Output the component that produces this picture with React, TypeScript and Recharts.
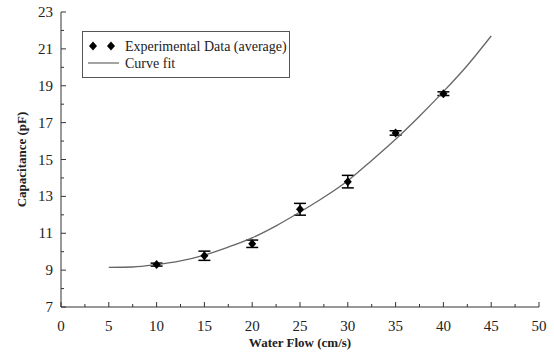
import {
  ComposedChart,
  ErrorBar,
  Legend,
  Line,
  Scatter,
  XAxis,
  YAxis,
} from "recharts";

// measured points (cm/s -> pF) with error half-widths
const flow = [10, 15, 20, 25, 30, 35, 40];
const capacitance = [9.3, 9.78, 10.43, 12.3, 13.8, 16.44, 18.57];
const errors = [0.08, 0.25, 0.2, 0.32, 0.34, 0.12, 0.1];

// curve fit
const fitFlow = [5, 7.5, 10, 12.5, 15, 17.5, 20, 22.5, 25, 27.5, 30, 32.5, 35, 37.5, 40, 42.5, 45];
const fitCap = [9.15, 9.17, 9.3, 9.5, 9.82, 10.25, 10.75, 11.4, 12.15, 12.95, 13.85, 14.95, 16.1, 17.35, 18.68, 20.1, 21.7];

const xTicks = [0, 2.5, 5, 7.5, 10, 12.5, 15, 17.5, 20, 22.5, 25, 27.5, 30, 32.5, 35, 37.5, 40, 42.5, 45, 47.5, 50];
const yTicks = [7, 8, 9, 10, 11, 12, 13, 14, 15, 16, 17, 18, 19, 20, 21, 22, 23];

const points = flow.map((x, i) => ({ x, y: capacitance[i], err: errors[i] }));
const fit = fitFlow.map((x, i) => ({ x, fit: fitCap[i] }));

const AXIS = "#333";
const FONT = "'Liberation Serif', 'Times New Roman', serif";
const txt = { fontFamily: FONT, fill: "#222" };

const isMajorX = (v: number) => v % 5 === 0;
const isMajorY = (v: number) => v % 2 === 1;

function BottomTick({ x, y, payload }: any) {
  const major = isMajorX(payload.value);
  return (
    <g>
      <line x1={x} x2={x} y1={y} y2={y - (major ? 5 : 3)} stroke={AXIS} />
      {major && (
        <text x={x} y={y + 24} textAnchor="middle" style={{ ...txt, fontSize: 15 }}>
          {payload.value}
        </text>
      )}
    </g>
  );
}

function TopTick({ x, y, payload }: any) {
  const major = isMajorX(payload.value);
  return <line x1={x} x2={x} y1={y} y2={y + (major ? 5 : 3)} stroke={AXIS} />;
}

function LeftTick({ x, y, payload }: any) {
  const major = isMajorY(payload.value);
  return (
    <g>
      <line x1={x} x2={x + (major ? 5 : 3)} y1={y} y2={y} stroke={AXIS} />
      {major && (
        <text x={x - 8} y={y + 5} textAnchor="end" style={{ ...txt, fontSize: 15 }}>
          {payload.value}
        </text>
      )}
    </g>
  );
}

function RightTick({ x, y, payload }: any) {
  const major = isMajorY(payload.value);
  return <line x1={x} x2={x - (major ? 5 : 3)} y1={y} y2={y} stroke={AXIS} />;
}

function Diamond({ cx, cy }: any) {
  if (cx == null || cy == null) return null;
  return (
    <polygon
      points={`${cx},${cy - 4.5} ${cx + 4},${cy} ${cx},${cy + 4.5} ${cx - 4},${cy}`}
      fill="#000"
    />
  );
}

function LegendBox({ payload }: any) {
  const items = [...(payload || [])].sort((a, b) =>
    a.type === "line" ? 1 : b.type === "line" ? -1 : 0
  );
  return (
    <div style={{ border: "1.5px solid #555", width: 206, height: 45, boxSizing: "content-box" }}>
      <svg width={206} height={45}>
        {items.map((it: any, i: number) => {
          const cy = 14 + i * 17;
          return (
            <g key={it.value}>
              {it.type === "line" ? (
                <line x1={5} x2={36} y1={cy} y2={cy} stroke="#666" strokeWidth={1.2} />
              ) : (
                <>
                  <Diamond cx={10} cy={cy} />
                  <Diamond cx={28} cy={cy} />
                </>
              )}
              <text x={42} y={cy + 5} style={{ ...txt, fontSize: 14 }}>
                {it.value}
              </text>
            </g>
          );
        })}
      </svg>
    </div>
  );
}

export default function App() {
  return (
    <div style={{ width: 554, height: 358, background: "#fff" }}>
      <style>{`body{margin:0}`}</style>
      <ComposedChart width={554} height={358} margin={{ top: 12, right: 15, bottom: 0, left: 0 }}>
        <XAxis
          xAxisId="b"
          type="number"
          dataKey="x"
          domain={[0, 50]}
          ticks={xTicks}
          interval={0}
          tick={<BottomTick />}
          tickLine={false}
          tickSize={0}
          tickMargin={0}
          height={51}
          axisLine={{ stroke: AXIS }}
          allowDataOverflow
          label={{
            content: ({ viewBox }: any) => (
              <text
                x={viewBox.x + viewBox.width / 2}
                y={viewBox.y + 40}
                textAnchor="middle"
                style={{ ...txt, fontSize: 13, fontWeight: "bold" }}
              >
                Water Flow (cm/s)
              </text>
            ),
          }}
        />
        <XAxis
          xAxisId="t"
          orientation="top"
          type="number"
          dataKey="x"
          domain={[0, 50]}
          ticks={xTicks}
          interval={0}
          tick={<TopTick />}
          tickLine={false}
          tickSize={0}
          tickMargin={0}
          height={0}
          axisLine={{ stroke: AXIS }}
          allowDataOverflow
        />
        <YAxis
          yAxisId="l"
          type="number"
          domain={[7, 23]}
          ticks={yTicks}
          interval={0}
          tick={<LeftTick />}
          tickLine={false}
          tickSize={0}
          tickMargin={0}
          width={61}
          axisLine={{ stroke: AXIS }}
          allowDataOverflow
          label={{
            content: ({ viewBox }: any) => {
              const cx = viewBox.x + 21;
              const cy = viewBox.y + viewBox.height / 2;
              return (
                <text
                  x={cx}
                  y={cy}
                  transform={`rotate(-90 ${cx} ${cy})`}
                  textAnchor="middle"
                  dominantBaseline="central"
                  style={{ ...txt, fontSize: 13, fontWeight: "bold" }}
                >
                  Capacitance (pF)
                </text>
              );
            },
          }}
        />
        <YAxis
          yAxisId="r"
          orientation="right"
          type="number"
          domain={[7, 23]}
          ticks={yTicks}
          interval={0}
          tick={<RightTick />}
          tickLine={false}
          tickSize={0}
          tickMargin={0}
          width={0}
          axisLine={{ stroke: AXIS }}
          allowDataOverflow
        />
        <Legend
          layout="vertical"
          align="center"
          verticalAlign="middle"
          content={<LegendBox />}
          wrapperStyle={{ left: 82, top: 31, width: 209, height: 48 }}
        />
        <Scatter
          xAxisId="b"
          yAxisId="l"
          name="Experimental Data (average)"
          data={points}
          dataKey="y"
          legendType="diamond"
          fill="#000"
          shape={<Diamond />}
          isAnimationActive={false}
        >
          <ErrorBar dataKey="err" direction="y" width={6} stroke="#000" strokeWidth={1.5} />
        </Scatter>
        <Line
          xAxisId="b"
          yAxisId="l"
          name="Curve fit"
          data={fit}
          dataKey="fit"
          type="monotone"
          stroke="#666"
          strokeWidth={1.3}
          dot={false}
          legendType="line"
          isAnimationActive={false}
        />
      </ComposedChart>
    </div>
  );
}
